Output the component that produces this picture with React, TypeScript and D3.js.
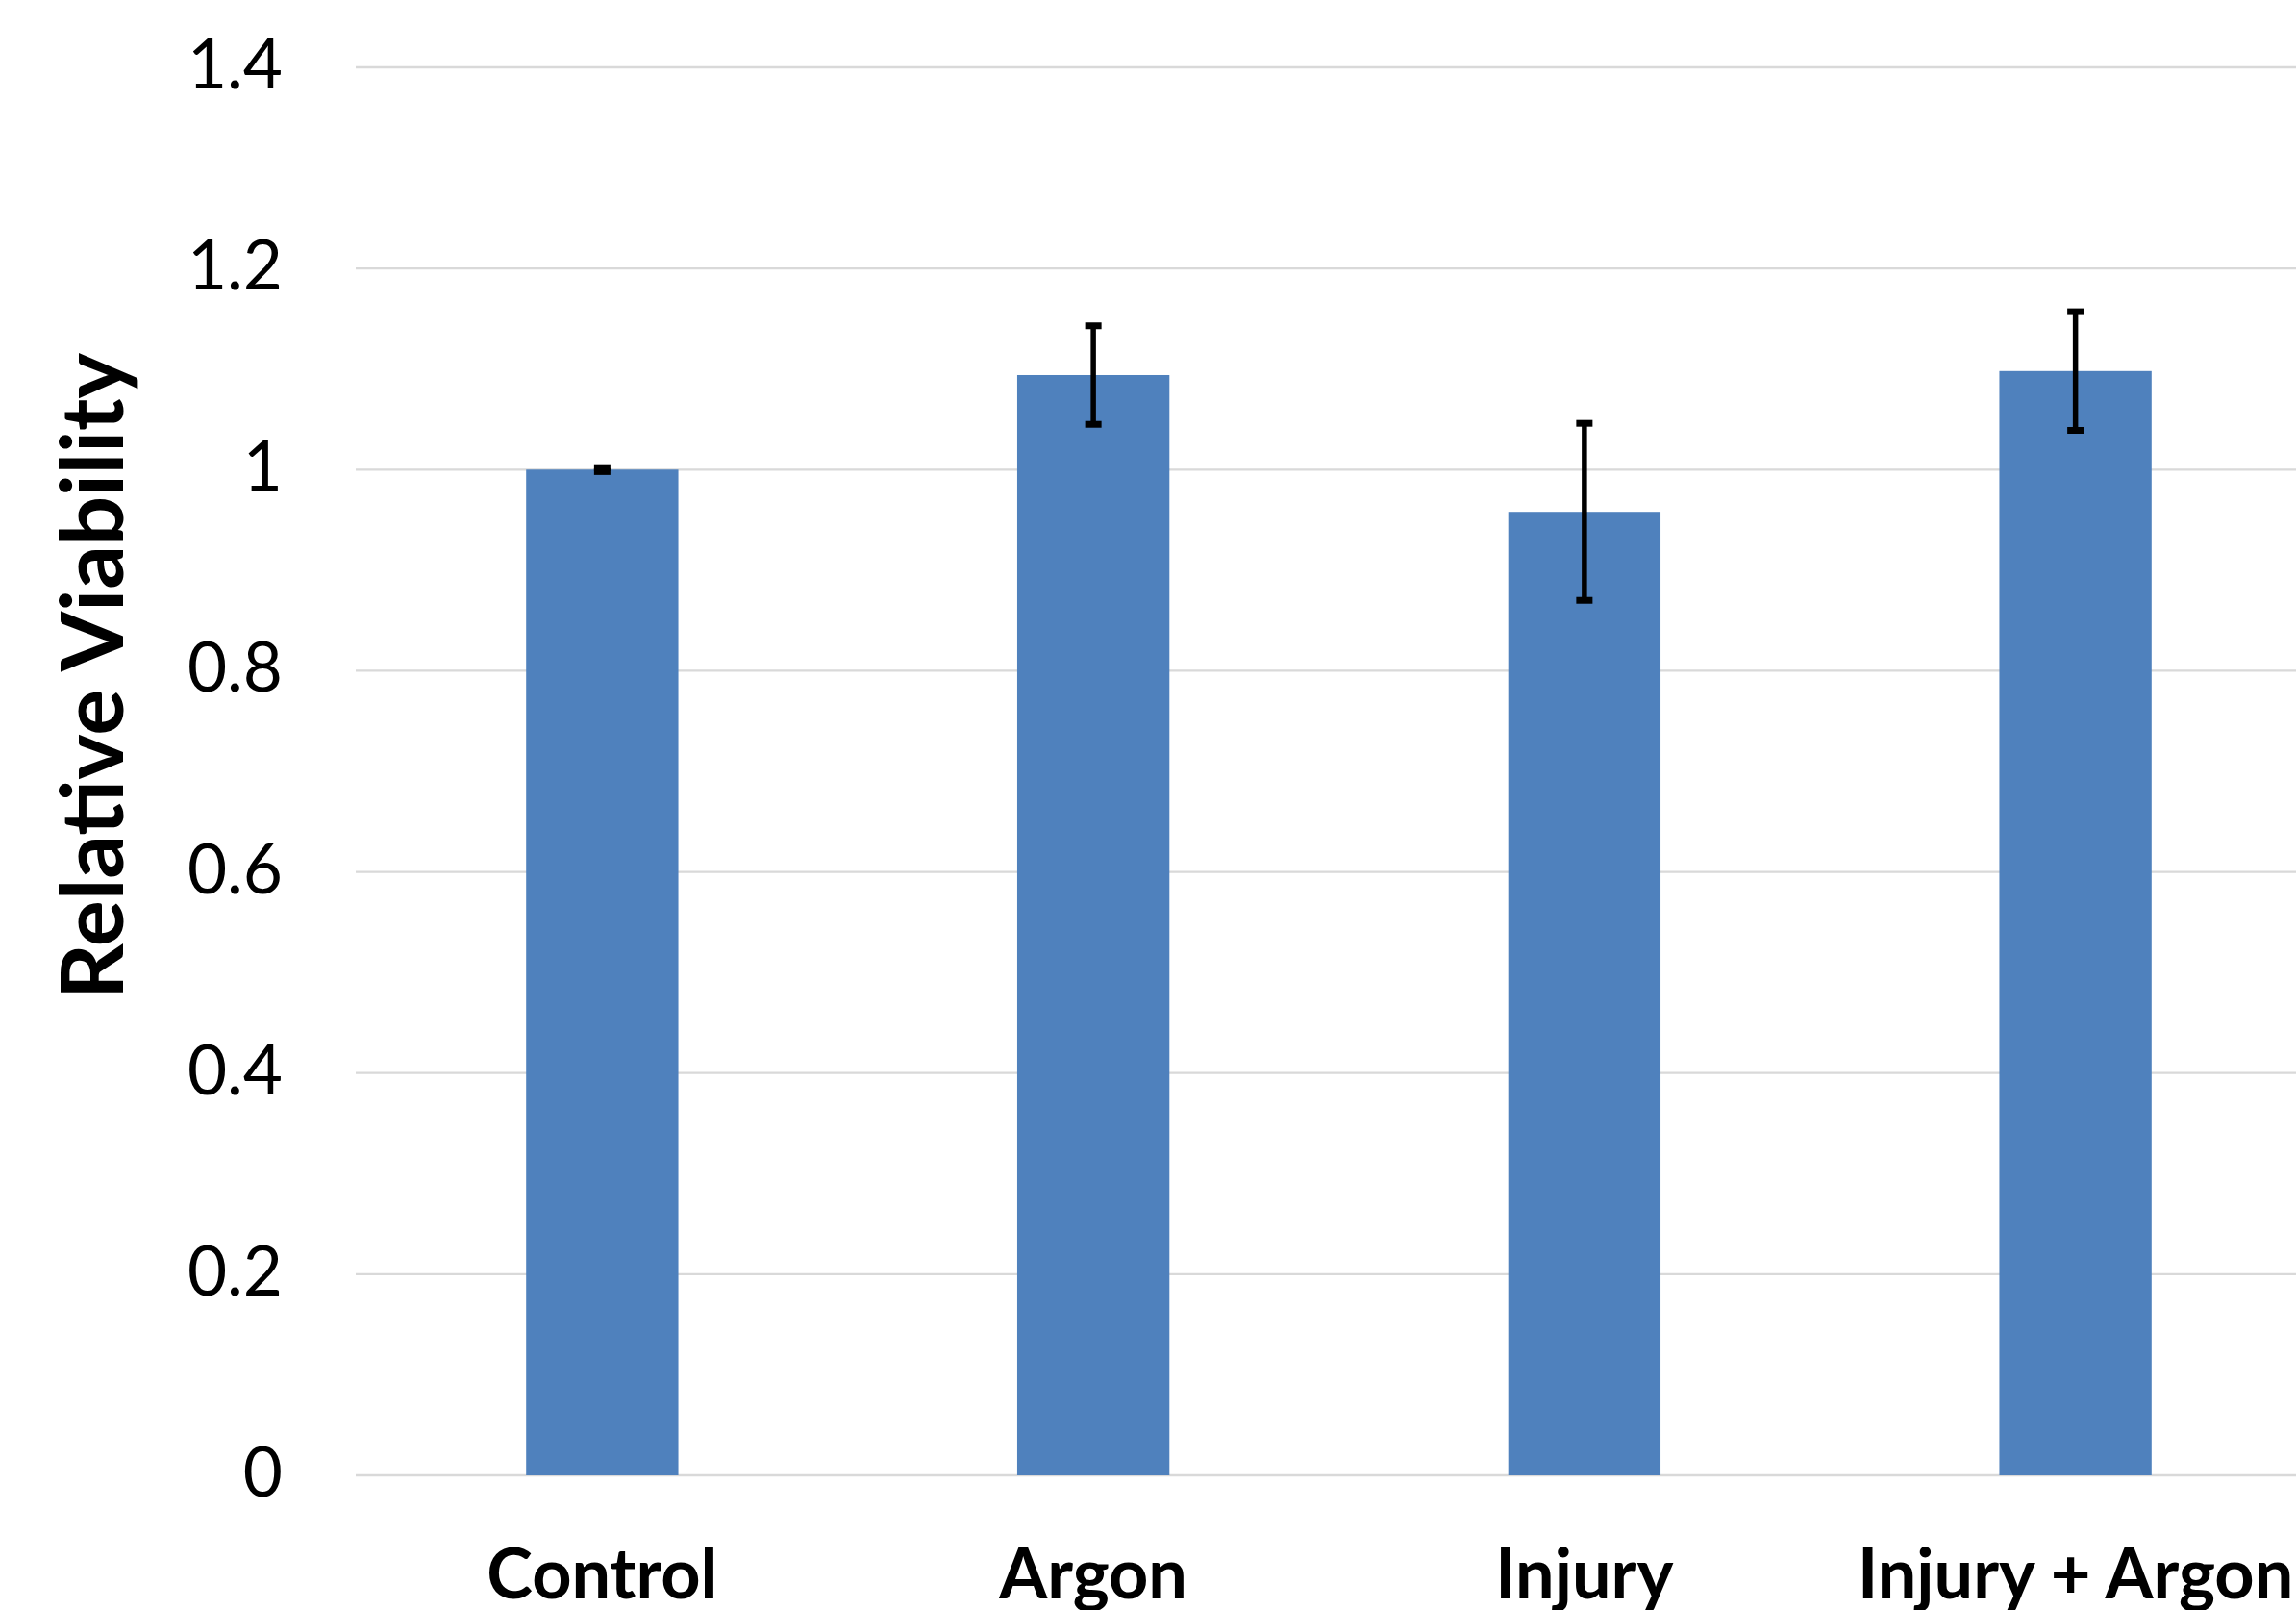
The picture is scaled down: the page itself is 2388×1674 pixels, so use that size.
import React from "react";
import * as d3 from "d3";

const categories = ["Control", "Argon", "Injury", "Injury + Argon"];
const values = [1.0, 1.094, 0.958, 1.098];
const errors = [0.002, 0.049, 0.088, 0.059];
const yTicks = [0, 0.2, 0.4, 0.6, 0.8, 1, 1.2, 1.4];
const yTitle = "Relative Viability";

const W = 2388;
const H = 1674;
const FONT = "Lato, 'Open Sans', sans-serif";

export default function App() {
  const left = 371;
  const x = d3
    .scaleBand<string>()
    .domain(categories)
    .range([left, left + 2043])
    .paddingInner(0.69)
    .paddingOuter(0.345);
  const y = d3.scaleLinear().domain([0, 1.4]).range([1534, 70]);
  const bw = x.bandwidth();

  return (
    <svg
      width={W}
      height={H}
      style={{ position: "absolute", top: 0, left: 0, background: "#fff" }}
    >
      <rect x={0} y={0} width={W} height={H} fill="#fff" />
      {yTicks.map((t) => (
        <g key={t}>
          <line
            x1={370}
            x2={W}
            y1={y(t)}
            y2={y(t)}
            stroke="#D9D9D9"
            strokeWidth={2.3}
          />
          <text
            x={294}
            y={y(t) + 4}
            textAnchor="end"
            dominantBaseline="middle"
            fontFamily={FONT}
            fontSize={71}
            fill="#000"
          >
            {d3.format("~g")(t)}
          </text>
        </g>
      ))}
      {categories.map((c, i) => {
        const cx = (x(c) as number) + bw / 2;
        const top = y(values[i] + errors[i]);
        const bot = y(values[i] - errors[i]);
        return (
          <g key={c}>
            <rect
              x={x(c)}
              y={y(values[i])}
              width={bw}
              height={y(0) - y(values[i])}
              fill="#4F81BD"
            />
            <line x1={cx} x2={cx} y1={top} y2={bot} stroke="#000" strokeWidth={5.5} />
            <line x1={cx - 8.5} x2={cx + 8.5} y1={top} y2={top} stroke="#000" strokeWidth={7} />
            <line x1={cx - 8.5} x2={cx + 8.5} y1={bot} y2={bot} stroke="#000" strokeWidth={7} />
            <text
              x={cx}
              y={1662}
              textAnchor="middle"
              fontFamily={FONT}
              fontWeight="bold"
              fontSize={72}
              fill="#000"
            >
              {c}
            </text>
          </g>
        );
      })}
      <text
        transform={`translate(128, ${(y(0) + y(1.4)) / 2 - 99}) rotate(-90)`}
        textAnchor="middle"
        fontFamily={FONT}
        fontWeight="bold"
        fontSize={90}
        fill="#000"
      >
        {yTitle}
      </text>
    </svg>
  );
}
